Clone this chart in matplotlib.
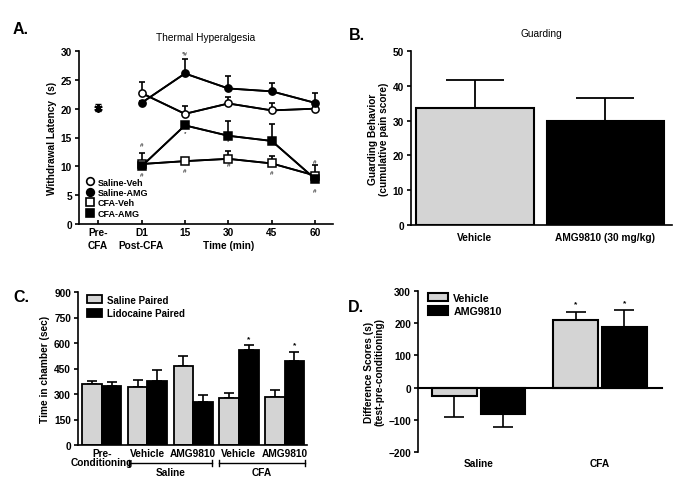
import matplotlib
matplotlib.use("Agg")
import matplotlib.pyplot as plt
from matplotlib.lines import Line2D
from matplotlib.transforms import blended_transform_factory
import numpy as np

plt.rcParams["font.family"] = ["Liberation Sans", "DejaVu Sans"]
plt.rcParams["font.weight"] = "bold"
plt.rcParams["axes.labelweight"] = "bold"
plt.rcParams["axes.linewidth"] = 1.2

GREY = "#d4d4d4"

# --- A: thermal hyperalgesia (withdrawal latency, s) ---
a_ticks = ["Pre-\nCFA", "D1\nPost-CFA", "15", "30", "45", "60"]
pre_mean, pre_err = 20.2, 0.6
sal_veh = [22.7, 19.1, 20.9, 19.7, 20.0]
sal_veh_err = [2.0, 1.3, 1.1, 1.2, 0.3]
sal_amg = [21.0, 26.1, 23.5, 23.0, 21.0]
sal_amg_err = [0.3, 2.5, 2.1, 1.5, 1.8]
cfa_veh = [10.4, 10.9, 11.3, 10.5, 8.4]
cfa_veh_err = [1.9, 0.3, 1.3, 1.3, 1.8]
cfa_amg = [10.0, 17.1, 15.3, 14.4, 7.8]
cfa_amg_err = [0.3, 0.3, 2.5, 3.0, 0.3]
# (x index, y, text) significance marks
a_marks = [(2, 29.5, "*#"), (1, 13.7, "#"), (1, 8.6, "#"), (2, 15.9, "*"),
           (2, 9.3, "#"), (3, 14.4, "*"), (3, 10.3, "#"), (4, 8.9, "#"),
           (5, 10.9, "#"), (5, 5.8, "#")]

# --- B: guarding ---
b_groups = ["Vehicle", "AMG9810 (30 mg/kg)"]
b_vals = [33.7, 29.9]
b_err = [8.1, 6.6]

# --- C: conditioned place preference ---
c_groups = ["Pre-\nConditioning", "Vehicle", "AMG9810", "Vehicle", "AMG9810"]
c_saline = [358, 344, 466, 278, 280]
c_saline_err = [18, 41, 60, 27, 45]
c_lido = [346, 378, 254, 556, 493]
c_lido_err = [24, 62, 38, 31, 55]
c_stars = [False, False, False, True, True]

# --- D: difference scores ---
d_groups = ["Saline", "CFA"]
d_veh = [-25, 210]
d_veh_err = [65, 25]
d_amg = [-83, 189]
d_amg_err = [40, 51]
d_stars = [False, True]

fig = plt.figure(figsize=(6.85, 4.89), dpi=100)
W, H = 685.0, 489.0
FS = 7.3


def px_axes(l, t, r, b):
    return fig.add_axes([l / W, 1 - b / H, (r - l) / W, (b - t) / H])


def style(ax):
    for s in ("top", "right"):
        ax.spines[s].set_visible(False)
    ax.tick_params(labelsize=FS, width=1.2, length=3, pad=2)


# ---------- A ----------
ax = px_axes(79, 52, 333, 225)
style(ax)
x = np.arange(1, 6)
series = [
    (sal_veh, sal_veh_err, "o", "white", "Saline-Veh"),
    (sal_amg, sal_amg_err, "o", "black", "Saline-AMG"),
    (cfa_veh, cfa_veh_err, "s", "white", "CFA-Veh"),
    (cfa_amg, cfa_amg_err, "s", "black", "CFA-AMG"),
]
handles = []
for vals, err, m, fc, lab in series:
    ax.errorbar(x, vals, yerr=[np.zeros(len(err)), err], color="black", lw=1.3,
                capsize=2.5, capthick=1.2, elinewidth=1.2, zorder=2)
    ax.plot(x, vals, marker=m, mfc=fc, mec="black", mew=1.1, ms=5.2, color="black",
            lw=1.3, zorder=3)
    handles.append(Line2D([], [], marker=m, mfc=fc, mec="black", mew=1.2, ms=5.5,
                          ls="none", label=lab))
ax.errorbar([0], [pre_mean], yerr=[pre_err], color="black", capsize=2,
            elinewidth=1, capthick=1)
ax.plot([0], [pre_mean], marker=(6, 2, 0), ms=6, mew=1.4, color="black")
for xi, yi, t in a_marks:
    ax.text(xi, yi, t, fontsize=4.5, ha="center", va="center", fontweight="normal")
ax.set_xlim(-0.44, 5.41)
ax.set_ylim(0, 30)
ax.set_yticks(range(0, 31, 5))
ax.set_xticks(range(6))
ax.set_xticklabels(a_ticks, fontsize=FS, linespacing=1.4)
ax.tick_params(axis="x", direction="in", pad=2)
ax.set_ylabel("Withdrawal Latency  (s)", fontsize=FS, labelpad=3)
ax.text(3, -0.12, "Time (min)",
        transform=blended_transform_factory(ax.transData, ax.transAxes),
        fontsize=FS, ha="center", va="center")
ax.set_title("Thermal Hyperalgesia", fontsize=FS, pad=8)
ax.legend(handles=handles, loc="lower left", bbox_to_anchor=(0.0, 0.0), frameon=False,
          fontsize=6.5, handletextpad=0.4, labelspacing=0.15, borderpad=0.2,
          handlelength=1.0)
fig.text(13 / W, 1 - 30 / H, "A.", fontsize=11.5, fontweight="bold", va="center")

# ---------- B ----------
ax = px_axes(411, 52, 672, 226)
style(ax)
bx = np.arange(len(b_groups))
ax.bar(bx, b_vals, width=0.9, color=[GREY, "black"], edgecolor="black", lw=1.5, zorder=2)
ax.errorbar(bx, b_vals, yerr=[[0, 0], b_err], fmt="none", ecolor="black",
            capsize=21, capthick=1.3, elinewidth=1.3, zorder=1)
ax.set_xlim(-0.49, 1.51)
ax.set_ylim(0, 50)
ax.set_yticks(range(0, 51, 10))
ax.set_xticks(bx)
ax.set_xticklabels(b_groups, fontsize=FS)
ax.tick_params(axis="x", length=0, pad=5)
ax.set_ylabel("Guarding Behavior\n(cumulative pain score)", fontsize=FS, labelpad=3,
              linespacing=1.05)
ax.set_title("Guarding", fontsize=FS, pad=11)
fig.text(349 / W, 1 - 36 / H, "B.", fontsize=11.5, fontweight="bold", va="center")

# ---------- C ----------
ax = px_axes(78, 293, 307, 446)
style(ax)
cx = np.arange(len(c_groups))
bw = 0.43
ax.bar(cx - bw / 2, c_saline, width=bw, color=GREY, edgecolor="black", lw=1.3,
       label="Saline Paired", zorder=2)
ax.bar(cx + bw / 2, c_lido, width=bw, color="black", edgecolor="black", lw=1.3,
       label="Lidocaine Paired", zorder=2)
ax.errorbar(cx - bw / 2, c_saline, yerr=[np.zeros(5), c_saline_err], fmt="none",
            ecolor="black", capsize=3.5, capthick=1.2, elinewidth=1.2, zorder=1)
ax.errorbar(cx + bw / 2, c_lido, yerr=[np.zeros(5), c_lido_err], fmt="none",
            ecolor="black", capsize=3.5, capthick=1.2, elinewidth=1.2, zorder=1)
for xi, v, e, s in zip(cx, c_lido, c_lido_err, c_stars):
    if s:
        ax.text(xi + bw / 2, v + e + 40, "*", fontsize=6, ha="center", va="center")
ax.set_xlim(-0.52, 4.49)
ax.set_ylim(0, 900)
ax.set_yticks(range(0, 901, 150))
ax.set_xticks(cx)
ax.set_xticklabels(c_groups, fontsize=FS, linespacing=0.85)
ax.tick_params(axis="x", length=0, pad=2)
ax.set_ylabel("Time in chamber (sec)", fontsize=FS, labelpad=3)
ax.legend(loc="upper left", bbox_to_anchor=(0.0, 1.04), frameon=False, fontsize=7,
          handlelength=1.6, handleheight=0.9, handletextpad=0.5, labelspacing=0.35)
tr = blended_transform_factory(ax.transData, ax.transAxes)
for x0, x1, lab in [(0.59, 2.42, "Saline"), (2.57, 4.44, "CFA")]:
    ax.plot([x0, x1], [-0.118, -0.118], color="black", lw=1, transform=tr, clip_on=False)
    for xe in (x0, x1):
        ax.plot([xe, xe], [-0.095, -0.14], color="black", lw=1, transform=tr, clip_on=False)
    ax.text((x0 + x1) / 2, -0.175, lab, fontsize=FS, ha="center", va="center", transform=tr)
fig.text(13 / W, 1 - 298 / H, "C.", fontsize=11.5, fontweight="bold", va="center")

# ---------- D ----------
ax = px_axes(418, 292, 662, 453)
style(ax)
dx = np.arange(len(d_groups))
off, dw = 0.2, 0.37
ax.bar(dx - off, d_veh, width=dw, color=GREY, edgecolor="black", lw=1.5,
       label="Vehicle", zorder=2)
ax.bar(dx + off, d_amg, width=dw, color="black", edgecolor="black", lw=1.5,
       label="AMG9810", zorder=2)
for pos, vals, errs in [(dx - off, d_veh, d_veh_err), (dx + off, d_amg, d_amg_err)]:
    lo = [e if v < 0 else 0 for v, e in zip(vals, errs)]
    hi = [e if v >= 0 else 0 for v, e in zip(vals, errs)]
    ax.errorbar(pos, vals, yerr=[lo, hi], fmt="none", ecolor="black", capsize=7,
                capthick=1.2, elinewidth=1.2, zorder=1)
    for p, v, e, s in zip(pos, vals, errs, d_stars):
        if s:
            ax.text(p, v + e + 25, "*", fontsize=6, ha="center", va="center")
ax.spines["bottom"].set_position(("data", 0))
ax.spines["bottom"].set_linewidth(1.5)
ax.set_xlim(-0.5, 1.51)
ax.set_ylim(-200, 300)
ax.set_yticks(range(-200, 301, 100))
ax.set_xticks([])
tr = blended_transform_factory(ax.transData, ax.transAxes)
for xi, lab in zip(dx, d_groups):
    ax.text(xi, -0.07, lab, fontsize=FS, ha="center", va="center", transform=tr)
ax.set_ylabel("Difference Scores (s)\n(test-pre-conditioning)", fontsize=FS, labelpad=3,
              linespacing=1.05)
ax.legend(loc="upper left", bbox_to_anchor=(0.0, 1.05), frameon=False, fontsize=7.7,
          handlelength=1.9, handleheight=0.9, handletextpad=0.5, labelspacing=0.3)
fig.text(348 / W, 1 - 307 / H, "D.", fontsize=11.5, fontweight="bold", va="center")

fig.savefig("out.png", dpi=100)
